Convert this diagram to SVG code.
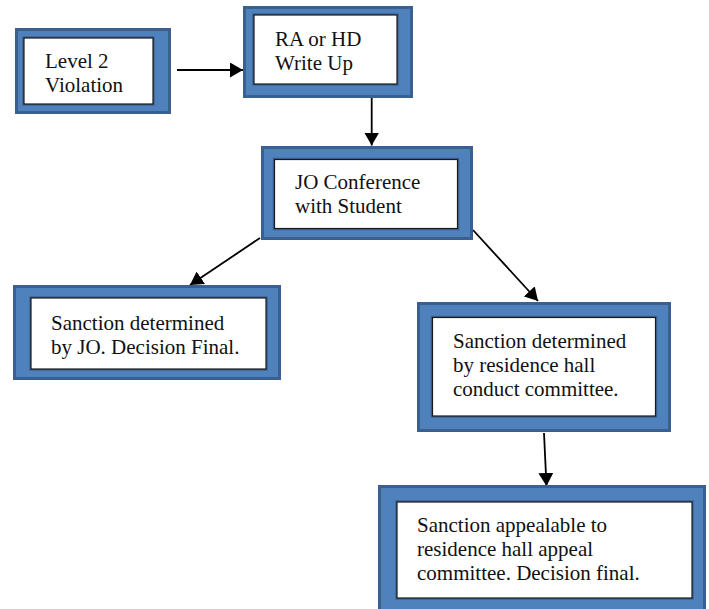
<svg xmlns="http://www.w3.org/2000/svg" width="709" height="609" viewBox="0 0 709 609">
<defs>
<style>
.frame{fill:#4f81bd;stroke:#3a6090;stroke-width:3}
.halo{fill:none;stroke:#3d6494;stroke-width:3.5}
.inner{fill:#ffffff;stroke:#1a1a1a;stroke-width:1.2}
text{font-family:'Liberation Serif','Times New Roman',serif;font-size:21px;fill:#111111}
.conn{stroke:#000000;stroke-width:1.8;fill:none;marker-end:url(#arr)}
</style>
<marker id="arr" markerUnits="userSpaceOnUse" markerWidth="14" markerHeight="15" refX="13" refY="7.5" orient="auto">
<path d="M0,0 L13,7.5 L0,15 z" fill="#000000"/>
</marker>
</defs>
<rect width="709" height="609" fill="#ffffff"/>
<g id="connectors">
<line class="conn" x1="177" y1="70" x2="243" y2="70"/>
<line class="conn" x1="371.7" y1="98" x2="371.7" y2="145.5"/>
<line class="conn" x1="260" y1="238" x2="190" y2="285"/>
<line class="conn" x1="473" y1="230" x2="538" y2="301"/>
<line class="conn" x1="544" y1="433" x2="546.5" y2="486"/>
</g>
<g id="level2">
<rect class="frame" x="16.5" y="29.5" width="153" height="83"/>
<rect class="halo" x="24" y="38" width="129" height="66"/>
<rect class="inner" x="24" y="38" width="129" height="66"/>
<text font-family="Liberation Serif, serif" x="45" y="68">Level 2</text>
<text font-family="Liberation Serif, serif" x="45" y="92">Violation</text>
</g>
<g id="writeup">
<rect class="frame" x="244.5" y="7.5" width="167" height="89"/>
<rect class="halo" x="254" y="15" width="143" height="69"/>
<rect class="inner" x="254" y="15" width="143" height="69"/>
<text font-family="Liberation Serif, serif" x="275" y="46">RA or HD</text>
<text font-family="Liberation Serif, serif" x="275" y="70">Write Up</text>
</g>
<g id="conference">
<rect class="frame" x="262.5" y="147.5" width="209" height="91"/>
<rect class="halo" x="274.5" y="159.5" width="183" height="69"/>
<rect class="inner" x="274.5" y="159.5" width="183" height="69"/>
<text font-family="Liberation Serif, serif" x="295" y="189">JO Conference</text>
<text font-family="Liberation Serif, serif" x="295" y="213">with Student</text>
</g>
<g id="sanction-jo">
<rect class="frame" x="14.5" y="286.5" width="265" height="92"/>
<rect class="halo" x="31" y="298" width="235" height="71"/>
<rect class="inner" x="31" y="298" width="235" height="71"/>
<text font-family="Liberation Serif, serif" x="51" y="330">Sanction determined</text>
<text font-family="Liberation Serif, serif" x="51" y="354">by JO. Decision Final.</text>
</g>
<g id="sanction-committee">
<rect class="frame" x="418.5" y="303.5" width="251" height="127"/>
<rect class="halo" x="432.5" y="317.5" width="223" height="98.5"/>
<rect class="inner" x="432.5" y="317.5" width="223" height="98.5"/>
<text font-family="Liberation Serif, serif" x="453" y="348">Sanction determined</text>
<text font-family="Liberation Serif, serif" x="453" y="372">by residence hall</text>
<text font-family="Liberation Serif, serif" x="453" y="396">conduct committee.</text>
</g>
<g id="appeal">
<rect class="frame" x="379.5" y="486.5" width="325" height="130"/>
<rect class="halo" x="397" y="502" width="295" height="96"/>
<rect class="inner" x="397" y="502" width="295" height="96"/>
<text font-family="Liberation Serif, serif" x="417" y="532">Sanction appealable to</text>
<text font-family="Liberation Serif, serif" x="417" y="555.5">residence hall appeal</text>
<text font-family="Liberation Serif, serif" x="417" y="580">committee. Decision final.</text>
</g>
</svg>
